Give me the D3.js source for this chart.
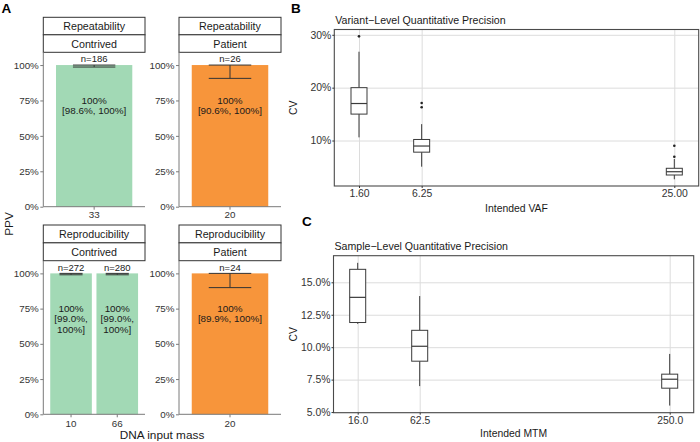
<!DOCTYPE html>
<html><head><meta charset="utf-8">
<script src="https://cdn.jsdelivr.net/npm/d3@7"></script>
<style>
body{margin:0;background:#fff}
svg{display:block}
text{font-family:"Liberation Sans",Arial,Helvetica,sans-serif}
</style>
</head><body>
<svg id="chart" width="700" height="442"></svg>
<script>
// ---------- Panel A data ----------
const aStudies = ["Repeatability", "Repeatability", "Reproducibility", "Reproducibility"];
const aSamples = ["Contrived", "Patient", "Contrived", "Patient"];
const aMasses = [["33"], ["20"], ["10", "66"], ["20"]];
const aPPV = [[1.0], [1.0], [1.0, 1.0], [1.0]];
const aLower = [[0.986], [0.906], [0.990, 0.990], [0.899]];
const aCounts = [[186], [26], [272, 280], [24]];
const aLabels = [
  [["100%", "[98.6%, 100%]"]],
  [["100%", "[90.6%, 100%]"]],
  [["100%", "[99.0%,", "100%]"], ["100%", "[99.0%,", "100%]"]],
  [["100%", "[89.9%, 100%]"]]
];
const aYTicks = [0, 0.25, 0.5, 0.75, 1];
const sampleColors = {Contrived: "#a2d9b5", Patient: "#f7953b"};

// ---------- Panel B data ----------
const vafLevels = [1.6, 6.25, 25];
const vafTickLabels = ["1.60", "6.25", "25.00"];
const vafLowWhisker = [10.6, 5.05, 2.67];
const vafQ1 = [15.0, 7.8, 3.48];
const vafMedian = [17.0, 8.96, 4.1];
const vafQ3 = [20.0, 10.2, 4.75];
const vafHighWhisker = [26.8, 13.1, 6.5];
const vafOutliers = [[29.7], [16.3, 17.1], [6.94, 9.0]];
const vafYTicks = [10, 20, 30];

// ---------- Panel C data ----------
const mtmLevels = [16, 62.5, 250];
const mtmTickLabels = ["16.0", "62.5", "250.0"];
const mtmLowWhisker = [11.8, 7.0, 5.5];
const mtmQ1 = [11.9, 8.92, 6.84];
const mtmMedian = [13.84, 10.07, 7.53];
const mtmQ3 = [16.0, 11.3, 7.92];
const mtmHighWhisker = [16.5, 13.94, 9.48];
const mtmOutliers = [[], [], []];
const mtmYTicks = [5, 7.5, 10, 12.5, 15];

const svg = d3.select("#chart");
const FONT_DARK = "#1a1a1a", FONT_TICK = "#333";

// ---------- Panel A ----------
const aLayout = [
  {x0: 43.3, x1: 145, top: 17.3, pTop: 52.3, pBot: 206.7, tickBase: 218},
  {x0: 179, x1: 281, top: 17.3, pTop: 52.3, pBot: 206.7, tickBase: 218},
  {x0: 43.3, x1: 145, top: 225, pTop: 260.7, pBot: 414.3, tickBase: 427},
  {x0: 179, x1: 281, top: 225, pTop: 260.7, pBot: 414.3, tickBase: 427}
];

aLayout.forEach((L, i) => {
  const g = svg.append("g");
  const x = d3.scaleBand().domain(aMasses[i]).range([L.x0, L.x1])
    .paddingInner(0.1).paddingOuter(0.15);
  const y = d3.scaleLinear().domain([0, 1.09]).range([L.pBot, L.pTop]);
  const stripH = (L.pTop - L.top) / 2;

  [aStudies[i], aSamples[i]].forEach((s, k) => {
    const sy = L.top + k * stripH;
    g.append("rect").attr("x", L.x0).attr("y", sy).attr("width", L.x1 - L.x0)
      .attr("height", stripH).attr("fill", "#fff").attr("stroke", "#333").attr("stroke-width", 1);
    g.append("text").attr("x", (L.x0 + L.x1) / 2).attr("y", sy + stripH / 2)
      .attr("text-anchor", "middle").attr("dominant-baseline", "central")
      .attr("font-size", 10.7).attr("fill", FONT_DARK).text(s);
  });

  aMasses[i].forEach((m, j) => {
    g.append("rect").attr("x", x(m)).attr("y", y(aPPV[i][j]))
      .attr("width", x.bandwidth()).attr("height", y(0) - y(aPPV[i][j]))
      .attr("fill", sampleColors[aSamples[i]]);
    const cx = x(m) + x.bandwidth() / 2;
    const hw = x.step() * 0.5 / 2;
    const eb = g.append("g").attr("stroke", "#333").attr("stroke-width", 1).attr("fill", "none");
    eb.append("line").attr("x1", cx - hw).attr("x2", cx + hw).attr("y1", y(aPPV[i][j])).attr("y2", y(aPPV[i][j]));
    eb.append("line").attr("x1", cx - hw).attr("x2", cx + hw).attr("y1", y(aLower[i][j])).attr("y2", y(aLower[i][j]));
    eb.append("line").attr("x1", cx).attr("x2", cx).attr("y1", y(aPPV[i][j])).attr("y2", y(aLower[i][j]));
    g.append("text").attr("x", cx).attr("y", y(aPPV[i][j]) - 6.3)
      .attr("text-anchor", "middle").attr("dominant-baseline", "central")
      .attr("font-size", 9.5).attr("fill", FONT_DARK).text("n=" + aCounts[i][j]);
    aLabels[i][j].forEach((t, k) => {
      g.append("text").attr("x", cx).attr("y", y(aPPV[i][j]) + 35 + k * 10.6)
        .attr("text-anchor", "middle").attr("dominant-baseline", "central")
        .attr("font-size", 9.9).attr("fill", FONT_DARK).text(t);
    });
  });

  const ya = g.append("g").attr("transform", `translate(${L.x0},0)`)
    .call(d3.axisLeft(y).tickValues(aYTicks).tickFormat(d3.format(".0%")).tickSize(3).tickSizeOuter(0).tickPadding(1.5));
  ya.select(".domain").attr("d", `M0,${L.pTop}V${L.pBot}`);
  const xa = g.append("g").attr("transform", `translate(0,${L.pBot})`)
    .call(d3.axisBottom(x).tickSize(3).tickSizeOuter(0).tickPadding(3));
  xa.select(".domain").attr("d", `M${L.x0},0H${L.x1}`);
  [ya, xa].forEach(a => {
    a.selectAll(".domain").attr("stroke", "#7a7a7a").attr("stroke-width", 1);
    a.selectAll(".tick line").attr("stroke", "#7a7a7a");
    a.selectAll(".tick text").attr("fill", FONT_TICK).attr("font-size", 9.8)
      .attr("font-family", "Liberation Sans, Arial, sans-serif");
  });
  xa.selectAll(".tick text").attr("dy", null).attr("y", L.tickBase - L.pBot);
});

svg.append("text").attr("x", 162).attr("y", 439).attr("text-anchor", "middle")
  .attr("font-size", 11.8).attr("fill", FONT_DARK).text("DNA input mass");
svg.append("text").attr("transform", "translate(13,224) rotate(-90)").attr("text-anchor", "middle")
  .attr("font-size", 11.8).attr("fill", FONT_DARK).text("PPV");

// ---------- Box plot panels ----------
function boxPanel(cfg) {
  const g = svg.append("g");
  const x = d3.scaleLinear().domain(cfg.xDomain).range([cfg.left, cfg.right]);
  const y = d3.scaleLinear().domain(cfg.yDomain).range([cfg.bottom, cfg.top]);
  const W = cfg.right - cfg.left, H = cfg.bottom - cfg.top;

  const gy = g.append("g").attr("transform", `translate(${cfg.left},0)`)
    .call(d3.axisLeft(y).tickValues(cfg.yTicks).tickSize(-W).tickFormat(""));
  gy.select(".domain").remove();
  gy.selectAll(".tick line").attr("stroke", "#dcdcdc").attr("stroke-width", 1);
  const gx = g.append("g").attr("transform", `translate(0,${cfg.bottom})`)
    .call(d3.axisBottom(x).tickValues(cfg.levels).tickSize(-H).tickFormat(""));
  gx.select(".domain").remove();
  gx.selectAll(".tick line").attr("stroke", "#dcdcdc").attr("stroke-width", 1);

  const bw = 16;
  cfg.levels.forEach((lv, i) => {
    const cx = x(lv);
    const bg = g.append("g").attr("stroke", "#3a3a3a").attr("stroke-width", 1);
    bg.append("line").attr("x1", cx).attr("x2", cx).attr("y1", y(cfg.hi[i])).attr("y2", y(cfg.q3[i]));
    bg.append("line").attr("x1", cx).attr("x2", cx).attr("y1", y(cfg.q1[i])).attr("y2", y(cfg.lo[i]));
    bg.append("rect").attr("x", cx - bw / 2).attr("y", y(cfg.q3[i])).attr("width", bw)
      .attr("height", y(cfg.q1[i]) - y(cfg.q3[i])).attr("fill", "#fff");
    bg.append("line").attr("x1", cx - bw / 2).attr("x2", cx + bw / 2)
      .attr("y1", y(cfg.med[i])).attr("y2", y(cfg.med[i])).attr("stroke-width", 1.2);
    cfg.out[i].forEach(o => {
      g.append("circle").attr("cx", cx).attr("cy", y(o)).attr("r", 1.3).attr("fill", "#222");
    });
  });

  g.append("rect").attr("x", cfg.left).attr("y", cfg.top).attr("width", W).attr("height", H)
    .attr("fill", "none").attr("stroke", "#4a4a4a").attr("stroke-width", 1.1);

  const ya = g.append("g").attr("transform", `translate(${cfg.left},0)`)
    .call(d3.axisLeft(y).tickValues(cfg.yTicks).tickFormat(cfg.yFormat).tickSize(2).tickSizeOuter(0).tickPadding(1));
  const xa = g.append("g").attr("transform", `translate(0,${cfg.bottom})`)
    .call(d3.axisBottom(x).tickValues(cfg.levels).tickFormat((d, i) => cfg.xLabels[i]).tickSize(2).tickSizeOuter(0).tickPadding(2));
  [ya, xa].forEach(a => {
    a.select(".domain").remove();
    a.selectAll(".tick line").attr("stroke", "#333");
    a.selectAll(".tick text").attr("fill", FONT_TICK).attr("font-size", 10.4)
      .attr("font-family", "Liberation Sans, Arial, sans-serif");
  });
  xa.selectAll(".tick text").attr("dy", null).attr("y", cfg.tickBase - cfg.bottom);

  g.append("text").attr("x", cfg.left + 1).attr("y", cfg.titleBase)
    .attr("font-size", 10.6).attr("fill", FONT_DARK).text(cfg.title);
  g.append("text").attr("x", (cfg.left + cfg.right) / 2).attr("y", cfg.xTitleBase)
    .attr("text-anchor", "middle").attr("font-size", 10.4).attr("fill", FONT_DARK).text(cfg.xTitle);
  g.append("text").attr("transform", `translate(297,${(cfg.top + cfg.bottom) / 2}) rotate(-90)`)
    .attr("text-anchor", "middle").attr("font-size", 10.4).attr("fill", FONT_DARK).text("CV");
}

boxPanel({
  levels: vafLevels, xLabels: vafTickLabels, lo: vafLowWhisker, q1: vafQ1, med: vafMedian,
  q3: vafQ3, hi: vafHighWhisker, out: vafOutliers, yTicks: vafYTicks,
  yFormat: d => d + "%", xDomain: [-0.233, 26.81], yDomain: [1.4, 31.0],
  left: 334.3, right: 698.7, top: 29.5, bottom: 186, tickBase: 196.5,
  title: "Variant\u2212Level Quantitative Precision", titleBase: 24,
  xTitle: "Intended VAF", xTitleBase: 212
});

boxPanel({
  levels: mtmLevels, xLabels: mtmTickLabels, lo: mtmLowWhisker, q1: mtmQ1, med: mtmMedian,
  q3: mtmQ3, hi: mtmHighWhisker, out: mtmOutliers, yTicks: mtmYTicks,
  yFormat: d => d.toFixed(1) + "%", xDomain: [-2.15, 268.0], yDomain: [4.95, 17.05],
  left: 333.5, right: 693.7, top: 255.7, bottom: 412.7, tickBase: 424,
  title: "Sample\u2212Level Quantitative Precision", titleBase: 250,
  xTitle: "Intended MTM", xTitleBase: 437
});

[["A", 1.5, 13.3], ["B", 291, 12.7], ["C", 302, 226]].forEach(([t, x, y]) => {
  svg.append("text").attr("x", x).attr("y", y).attr("font-size", 13.5)
    .attr("font-weight", "bold").attr("fill", "#000").text(t);
});
</script>
</body></html>
